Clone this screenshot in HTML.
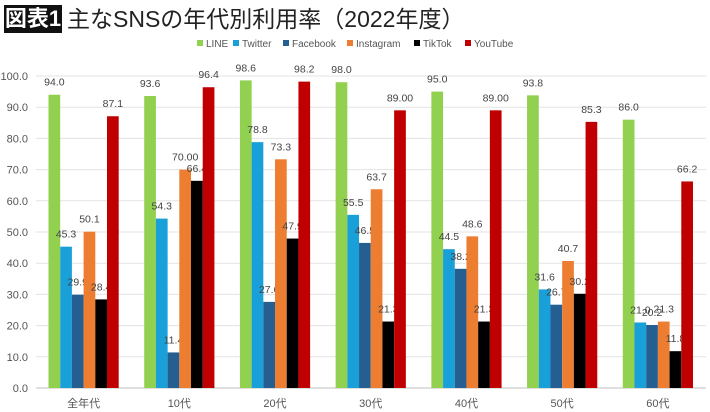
<!DOCTYPE html>
<html><head><meta charset="utf-8"><style>
body{margin:0;background:#fff;width:710px;height:412px;overflow:hidden;font-family:"Liberation Sans","Noto Sans CJK JP",sans-serif}
</style></head><body>
<div style="position:absolute;left:4px;top:5px;width:58px;height:28px;background:#111;color:#fff;font:bold 22px 'Liberation Sans','Noto Sans CJK JP',sans-serif;line-height:28px;text-align:center">図表1</div>
<div style="position:absolute;left:67px;top:3px;font:normal 23px 'Liberation Sans','Noto Sans CJK JP',sans-serif;color:#222;line-height:32px">主なSNSの年代別利用率（2022年度）</div>
<svg id="chart" width="710" height="412" style="position:absolute;left:0;top:0"></svg>
<script>
const categories=["全年代","10代","20代","30代","40代","50代","60代"];
const seriesNames=["LINE","Twitter","Facebook","Instagram","TikTok","YouTube"];
const lineVals=[94.0,93.6,98.6,98.0,95.0,93.8,86.0];
const twitterVals=[45.3,54.3,78.8,55.5,44.5,31.6,21.0];
const facebookVals=[29.9,11.4,27.6,46.5,38.2,26.7,20.2];
const instagramVals=[50.1,70.0,73.3,63.7,48.6,40.7,21.3];
const tiktokVals=[28.4,66.4,47.9,21.3,21.3,30.2,11.8];
const youtubeVals=[87.1,96.4,98.2,89.0,89.0,85.3,66.2];
const lineLabels=["94.0","93.6","98.6","98.0","95.0","93.8","86.0"];
const twitterLabels=["45.3","54.3","78.8","55.5","44.5","31.6","21.0"];
const facebookLabels=["29.9","11.4","27.6","46.5","38.2","26.7","20.2"];
const instagramLabels=["50.1","70.00","73.3","63.7","48.6","40.7","21.3"];
const tiktokLabels=["28.4","66.4","47.9","21.3","21.3","30.2","11.8"];
const youtubeLabels=["87.1","96.4","98.2","89.00","89.00","85.3","66.2"];
const yTicks=[0,10,20,30,40,50,60,70,80,90,100];
const colors=["#92d050","#1aa0d8","#255e91","#ed7d31","#000000","#c00000"];
const series=[lineVals,twitterVals,facebookVals,instagramVals,tiktokVals,youtubeVals];
const labels=[lineLabels,twitterLabels,facebookLabels,instagramLabels,tiktokLabels,youtubeLabels];
const NS="http://www.w3.org/2000/svg";
const svg=document.getElementById("chart");
const x0=36,x1=706,yBase=388,yTop=76;
const y=v=>yBase-(v/100)*(yBase-yTop);
const gw=(x1-x0)/categories.length, bw=11.7, gStart=12.5;
function mk(t,a){const e=document.createElementNS(NS,t);for(const k in a)e.setAttribute(k,a[k]);svg.appendChild(e);return e;}
yTicks.forEach(t=>{
 const l=mk("line",{x1:x0,x2:x1,y1:y(t),y2:y(t),stroke:t===0?"#bfbfbf":"#e3e3e3","stroke-width":1});
 
 
 const tx=mk("text",{x:28,y:y(t)+4,"text-anchor":"end","font-size":11,fill:"#555"});
 tx.textContent=t.toFixed(1);
 
 
});
categories.forEach((c,i)=>{
 const gx=x0+i*gw+gStart;
 series.forEach((s,j)=>{
  const bx=gx+j*bw;
  const r=mk("rect",{x:bx,y:y(s[i]),width:bw,height:yBase-y(s[i]),fill:colors[j]});
  
  
  const t=mk("text",{x:bx+bw/2,y:y(s[i])-9,"text-anchor":"middle","font-size":10.5,fill:"#444"});
  t.textContent=labels[j][i];
  
  
 });
 const ct=mk("text",{x:gx+3*bw,y:407,"text-anchor":"middle","font-size":11,fill:"#555"});
 ct.textContent=c;
 
 
});
let lx=197;
const legendW=[36,50,64,67,51,55];
seriesNames.forEach((n,j)=>{
 const r=mk("rect",{x:lx,y:40,width:6,height:6,fill:colors[j]});
 
 
 const t=mk("text",{x:lx+9,y:47,"font-size":10,fill:"#555"});
 t.textContent=n;
 
 
 lx+=legendW[j];
});
</script>
</body></html>
